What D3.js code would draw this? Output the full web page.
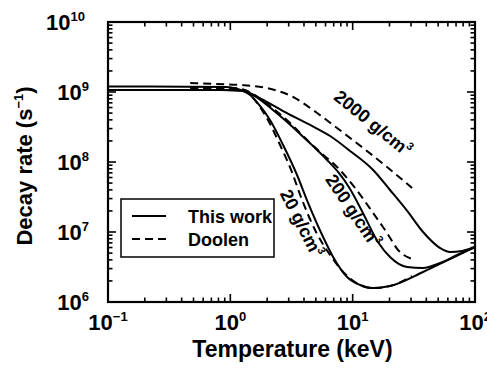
<!DOCTYPE html>
<html>
<head>
<meta charset="utf-8">
<script src="https://cdn.jsdelivr.net/npm/d3@7/dist/d3.min.js"></script>
<style>
  html, body { margin: 0; padding: 0; background: #fff; }
  svg { display: block; }
  text { font-family: "Liberation Sans", Arial, Helvetica, sans-serif; font-weight: bold; fill: #000; }
</style>
</head>
<body>
<svg id="chart" width="487" height="370"></svg>
<script>
// ---- Data ----
const xTickExponents = [-1, 0, 1, 2];
const yTickExponents = [6, 7, 8, 9, 10];

const thisWork20T = [0.1, 0.82, 1.2, 1.45, 1.75, 2.11, 2.7, 3.51, 4.32, 5.73, 6.92, 9.0, 11.5, 14.7, 20.2, 37.6, 62.5, 100];
const thisWork20R = [1.07e9, 1.07e9, 1.05e9, 9.06e8, 6.31e8, 3.98e8, 1.75e8, 6.52e7, 2.6e7, 8.48e6, 4.4e6, 2.28e6, 1.75e6, 1.58e6, 1.69e6, 2.68e6, 4.11e6, 6.1e6];

const thisWork200T = [0.1, 0.91, 1.27, 1.68, 2.23, 2.91, 3.72, 4.83, 6.18, 7.6, 9.52, 11.9, 16.1, 20.2, 27.9, 37.6, 51.9, 71.4, 100];
const thisWork200R = [1.07e9, 1.07e9, 1.03e9, 8.2e8, 5.53e8, 3.73e8, 2.51e8, 1.64e8, 1.07e8, 7.2e7, 4.11e7, 2.0e7, 7.2e6, 4.4e6, 3.16e6, 3.06e6, 3.61e6, 4.69e6, 6.1e6];

const thisWork2000T = [0.1, 0.91, 1.37, 1.92, 2.7, 4.49, 6.54, 9.52, 14.7, 20.2, 27.9, 37.6, 51.9, 62.5, 78.5, 100];
const thisWork2000R = [1.2e9, 1.18e9, 1.0e9, 7.44e8, 5.35e8, 3.38e8, 2.35e8, 1.44e8, 7.69e7, 3.98e7, 2.0e7, 1.0e7, 5.9e6, 5.18e6, 5.36e6, 6.1e6];

const doolen20T = [0.47, 1.09, 1.40, 1.68, 2.03, 2.55, 3.14, 3.86, 5.02, 6.54, 8.51, 11.07, 14.7, 20.2, 30.6];
const doolen20R = [1.14e9, 1.14e9, 9.67e8, 6.74e8, 3.98e8, 1.75e8, 7.69e7, 2.86e7, 1.0e7, 4.69e6, 2.6e6, 1.81e6, 1.58e6, 1.69e6, 2.35e6];

const doolen200T = [0.47, 1.2, 1.68, 2.32, 3.08, 3.93, 5.41, 7.45, 10.46, 14.7, 19.1, 23.5, 30.6];
const doolen200R = [1.14e9, 1.1e9, 8.48e8, 5.53e8, 3.61e8, 2.35e8, 1.39e8, 8.48e7, 4.25e7, 1.87e7, 9.67e6, 5.53e6, 4.11e6];

const doolen2000T = [0.47, 0.75, 1.2, 2.0, 3.26, 5.12, 7.45, 12.2, 19.1, 30.6];
const doolen2000R = [1.35e9, 1.30e9, 1.26e9, 1.14e9, 8.48e8, 5.01e8, 3.06e8, 1.58e8, 8.48e7, 4.25e7];

const legendLabels = ["This work", "Doolen"];
const densityLabels = ["20 g/cm", "200 g/cm", "2000 g/cm"];

// ---- Layout ----
const svg = d3.select("#chart");
const L = 108, R = 475, T = 22, B = 302;

const x = d3.scaleLog().domain([0.1, 100]).range([L, R]);
const y = d3.scaleLog().domain([1e6, 1e10]).range([B, T]);

const zip = (a, b) => a.map((v, i) => [v, b[i]]);
const series = [
  { d: zip(thisWork20T, thisWork20R), dash: null },
  { d: zip(thisWork200T, thisWork200R), dash: null },
  { d: zip(thisWork2000T, thisWork2000R), dash: null },
  { d: zip(doolen20T, doolen20R), dash: "8,5" },
  { d: zip(doolen200T, doolen200R), dash: "8,5" },
  { d: zip(doolen2000T, doolen2000R), dash: "8,5" }
];

// ---- Ticks (inward, all four sides) ----
function logTicks(e0, e1) {
  const out = [];
  for (let e = e0; e < e1; e++) {
    for (let m = 1; m <= 9; m++) out.push({ v: m * Math.pow(10, e), major: m === 1 });
  }
  out.push({ v: Math.pow(10, e1), major: true });
  return out;
}
const xt = logTicks(-1, 2), yt = logTicks(6, 10);
const tickG = svg.append("g").attr("stroke", "#000").attr("stroke-width", 1.6);
xt.forEach(t => {
  const px = x(t.v), len = t.major ? 8 : 4.5;
  tickG.append("line").attr("x1", px).attr("x2", px).attr("y1", B).attr("y2", B - len);
  tickG.append("line").attr("x1", px).attr("x2", px).attr("y1", T).attr("y2", T + len);
});
yt.forEach(t => {
  const py = y(t.v), len = t.major ? 8 : 4.5;
  tickG.append("line").attr("y1", py).attr("y2", py).attr("x1", L).attr("x2", L + len);
  tickG.append("line").attr("y1", py).attr("y2", py).attr("x1", R).attr("x2", R - len);
});

// ---- Curves ----
const line = d3.line().x(d => x(d[0])).y(d => y(d[1])).curve(d3.curveMonotoneX);
svg.append("g").selectAll("path").data(series).join("path")
  .attr("d", s => line(s.d))
  .attr("fill", "none").attr("stroke", "#000").attr("stroke-width", 2)
  .attr("stroke-dasharray", s => s.dash);

// ---- Frame ----
svg.append("rect").attr("x", L).attr("y", T).attr("width", R - L).attr("height", B - T)
  .attr("fill", "none").attr("stroke", "#000").attr("stroke-width", 2.2);

// ---- Tick labels ----
xTickExponents.forEach(e => {
  const t = svg.append("text").attr("x", x(Math.pow(10, e))).attr("y", 330)
    .attr("text-anchor", "middle").attr("font-size", 22);
  t.append("tspan").text("10");
  t.append("tspan").attr("font-size", 13).attr("dy", -9).text(e < 0 ? "\u2212" + Math.abs(e) : String(e));
});
yTickExponents.forEach(e => {
  const t = svg.append("text").attr("x", e === 10 ? 85 : 89).attr("y", y(Math.pow(10, e)) + 8)
    .attr("text-anchor", "end").attr("font-size", 22);
  t.append("tspan").text("10");
  t.append("tspan").attr("font-size", 13).attr("dy", -9).text(String(e));
});

// ---- Axis titles ----
svg.append("text").attr("x", (L + R) / 2 + 1).attr("y", 357).attr("text-anchor", "middle")
  .attr("font-size", 23).text("Temperature (keV)");
const yt1 = svg.append("text").attr("transform", "translate(32," + ((T + B) / 2 + 4) + ") rotate(-90)")
  .attr("text-anchor", "middle").attr("font-size", 22);
yt1.append("tspan").text("Decay rate (s");
yt1.append("tspan").attr("font-size", 13).attr("dy", -9).text("\u22121");
yt1.append("tspan").attr("dy", 9).text(")");

// ---- Density labels on curves ----
function densityLabel(txt, cx, cy, angle) {
  const t = svg.append("text").attr("transform", `translate(${cx},${cy}) rotate(${angle})`)
    .attr("text-anchor", "middle").attr("font-size", 18);
  t.append("tspan").text(txt);
  t.append("tspan").attr("font-size", 11).attr("dy", -8).text("3");
}
densityLabel(densityLabels[2], 369, 128, 39);
densityLabel(densityLabels[1], 348, 214, 56);
densityLabel(densityLabels[0], 296, 226, 63);

// ---- Legend ----
svg.append("rect").attr("x", 121).attr("y", 199).attr("width", 153).attr("height", 58)
  .attr("fill", "#fff").attr("stroke", "#000").attr("stroke-width", 1.5);
const legY = [216, 239];
legendLabels.forEach((lab, i) => {
  svg.append("line").attr("x1", 132).attr("x2", 166).attr("y1", legY[i]).attr("y2", legY[i])
    .attr("stroke", "#000").attr("stroke-width", 2).attr("stroke-dasharray", i === 1 ? "8,5" : null);
  svg.append("text").attr("x", 188).attr("y", legY[i] + 6.5).attr("font-size", 18).text(lab);
});
</script>
</body>
</html>
